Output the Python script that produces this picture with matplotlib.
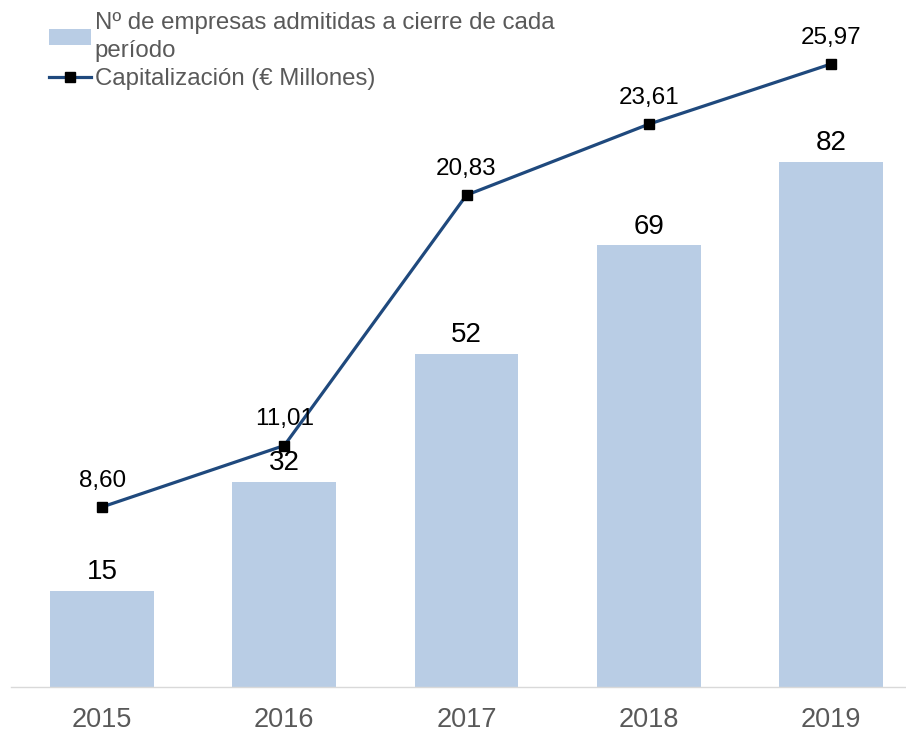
import matplotlib.pyplot as plt
from matplotlib.lines import Line2D
from matplotlib.patches import Patch

plt.rcParams['font.family'] = ['Liberation Sans', 'DejaVu Sans']

years = ['2015', '2016', '2017', '2018', '2019']
empresas = [15, 32, 52, 69, 82]
capitalizacion = [8.60, 11.01, 20.83, 23.61, 25.97]
cap_labels = ['8,60', '11,01', '20,83', '23,61', '25,97']

bar_color = '#B9CDE5'
line_color = '#1F497D'
grey = '#595959'

fig = plt.figure(figsize=(9.06, 7.34), dpi=100)
ax = fig.add_axes([11 / 906, 47 / 734, 911 / 906, 647 / 734])
x = list(range(len(years)))

ax.bar(x, empresas, width=0.57, color=bar_color, zorder=1)
ax.set_xlim(-0.5, 4.5)
ax.set_ylim(0, 101.1)
ax.set_yticks([])
for s in ['top', 'left', 'right']:
    ax.spines[s].set_visible(False)
ax.spines['bottom'].set_color('#D9D9D9')
ax.spines['bottom'].set_linewidth(1.0)
ax.set_xticks(x)
ax.set_xticklabels(years, fontsize=19.5, color=grey)
ax.tick_params(axis='x', length=0, pad=14.5)

for xi, v in zip(x, empresas):
    ax.annotate(str(v), (xi, v), xytext=(0, 13.5), textcoords='offset points',
                ha='center', va='center', fontsize=20, color='black')

# capitalisation on a secondary scale
ax2 = ax.twinx()
ax2.plot(x, capitalizacion, color=line_color, lw=2.3, marker='s',
         markersize=6.5, markerfacecolor='black', markeredgecolor='black',
         zorder=3)
ax2.set_ylim(1.54, 1.54 + 647 / 25.5)
ax2.set_yticks([])
for s in ax2.spines.values():
    s.set_visible(False)

for xi, v, lab in zip(x, capitalizacion, cap_labels):
    ax2.annotate(lab, (xi, v), xytext=(0, 19), textcoords='offset points',
                 ha='center', va='center', fontsize=17.5, color='black')

handles = [
    Patch(facecolor=bar_color, edgecolor='none'),
    Line2D([], [], color=line_color, lw=2.3, marker='s', markersize=6.5,
           markerfacecolor='black', markeredgecolor='black'),
]
labels = ['Nº de empresas admitidas a cierre de cada\nperíodo',
          'Capitalización (€ Millones)']
leg = fig.legend(handles, labels, loc='upper left',
                 bbox_to_anchor=(49 / 906, 1 - 12 / 734), frameon=False,
                 fontsize=17.3, handlelength=1.75, handleheight=0.6,
                 handletextpad=0.15, labelspacing=0.25, borderaxespad=0,
                 borderpad=0)
for t in leg.get_texts():
    t.set_color(grey)
    t.set_linespacing(1.35)

fig.savefig('out.png', dpi=100)
